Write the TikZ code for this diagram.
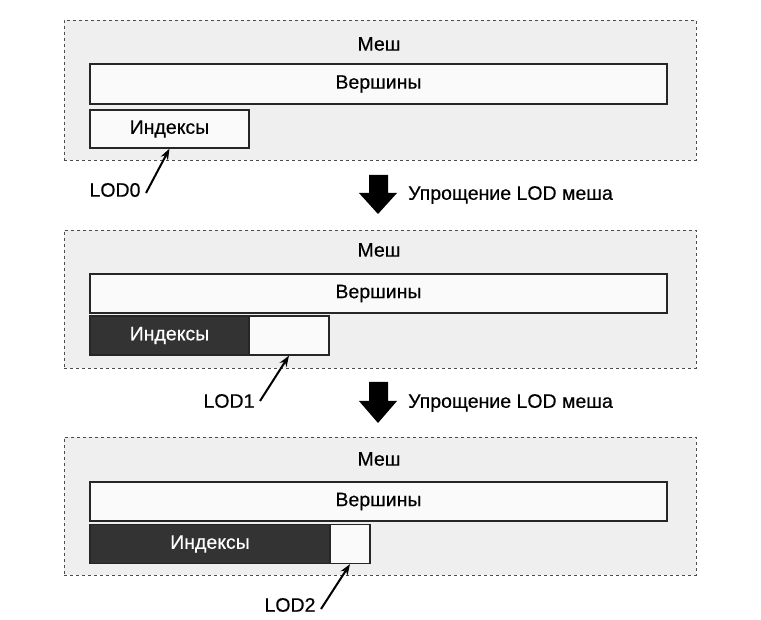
\documentclass[tikz,border=0pt]{standalone}
\usepackage{fontspec}
\setmainfont[FakeBold=0.4]{Liberation Sans}
\usetikzlibrary{arrows.meta}
\definecolor{panelgray}{HTML}{EFEFEF}
\definecolor{boxwhite}{HTML}{FAFAFA}
\definecolor{boxdark}{HTML}{333333}
\begin{document}
\begin{tikzpicture}[x=1pt, y=-1pt,
    every node/.style={font=\fontsize{19.5}{23}\selectfont},
    panel/.style={draw=black!70, dashed, fill=panelgray, minimum width=632, inner sep=0},
    buf/.style={draw=black!85, line width=1.3pt, fill=boxwhite, minimum height=39, inner sep=0},
    bufdark/.style={buf, fill=boxdark, text=white},
    ptr/.style={-{Stealth[length=11pt, width=8pt]}, line width=2pt},
    bigdown/.style={fill=black}]
  \useasboundingbox (0,0) rectangle (761,620);
  % LOD0
  \node[panel, minimum height=140] (mesh0) at (380,90){};
  \node (mname0) at (379,44){Меш};
  \node[buf, minimum width=577, minimum height=40] (vert0) at (378.5,84){Вершины};
  \node[buf, minimum width=159, minimum height=38] (idx0) at (169.5,129){Индексы};
  \node (lod0) at (115,190){LOD0};
  \draw[ptr] ([xshift=2pt, yshift=-3pt]lod0.east) -- (idx0.south);
  \fill[bigdown] (369,175) -- (388,175) -- (388,193) -- (397,193) -- (378,214) -- (359,193) -- (369,193) -- cycle;
  \node[anchor=west, inner sep=0] (simp0) at (408,195){Упрощение LOD меша};
  % LOD1
  \node[panel, minimum height=138] (mesh1) at (380,299){};
  \node (mname1) at (379,250){Меш};
  \node[buf, minimum width=577] (vert1) at (378.5,293.5){Вершины};
  \node[bufdark, minimum width=159] (idx1) at (169.5,335.5){Индексы};
  \node[buf, minimum width=80] (free1) at (289,335.5){};
  \node (lod1) at (229,401){LOD1};
  \draw[ptr] ([xshift=2pt]lod1.east) -- (free1.south);
  \fill[bigdown] (369,382) -- (388,382) -- (388,401) -- (397,401) -- (378,423) -- (359,401) -- (369,401) -- cycle;
  \node[anchor=west, inner sep=0] (simp1) at (408,403){Упрощение LOD меша};
  % LOD2
  \node[panel, minimum height=138] (mesh2) at (380,506){};
  \node (mname2) at (379,459){Меш};
  \node[buf, minimum width=577] (vert2) at (378.5,501.5){Вершины};
  \node[bufdark, minimum width=240] (idx2) at (210,544){Индексы};
  \node[buf, minimum width=40] (free2) at (350,544){};
  \node (lod2) at (290,605){LOD2};
  \draw[ptr] ([xshift=2pt, yshift=-4pt]lod2.east) -- (free2.south);
\end{tikzpicture}
\end{document}
